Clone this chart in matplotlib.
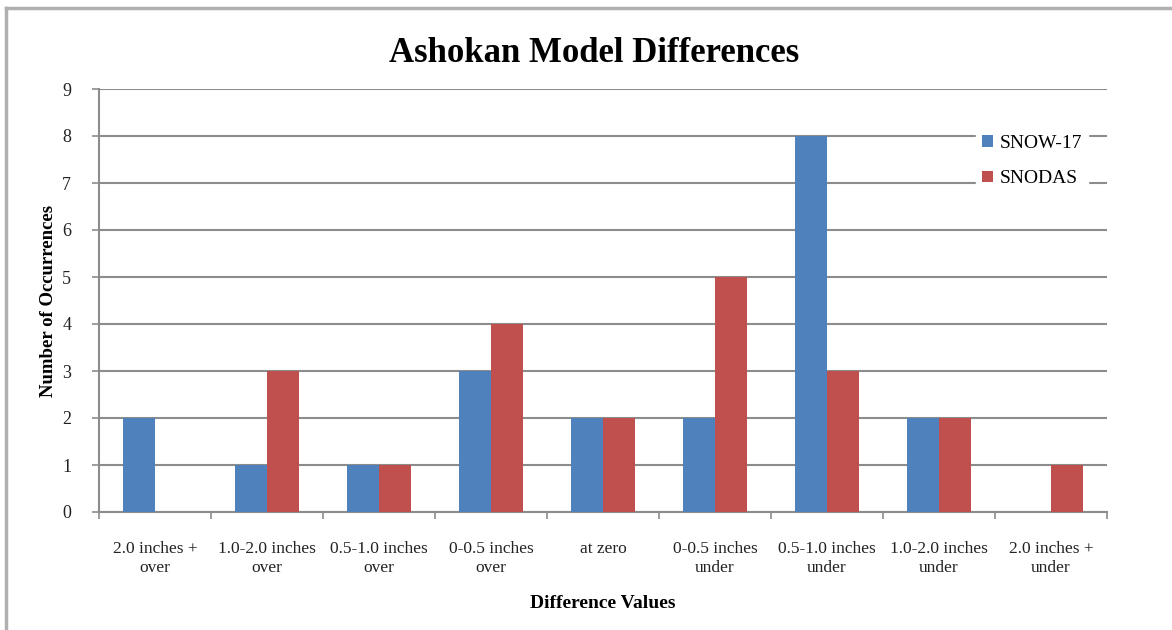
import matplotlib.pyplot as plt
import numpy as np
from matplotlib.lines import Line2D

categories = ["2.0 inches +\nover", "1.0-2.0 inches\nover", "0.5-1.0 inches\nover",
              "0-0.5 inches\nover", "at zero", "0-0.5 inches\nunder",
              "0.5-1.0 inches\nunder", "1.0-2.0 inches\nunder", "2.0 inches +\nunder"]
snow17 = [2, 1, 1, 3, 2, 2, 8, 2, 0]
snodas = [0, 3, 1, 4, 2, 5, 3, 2, 1]

plt.rcParams['font.family'] = ['Liberation Serif', 'DejaVu Serif']

fig = plt.figure(figsize=(11.72, 6.3), dpi=100)
ax = fig.add_axes([99 / 1172, 1 - 512 / 630, 1008 / 1172, 423 / 630])

x = np.arange(len(categories))
w = 1 / 3.5
ax.bar(x - w / 2, snow17, w, color='#4F81BD', label='SNOW-17', zorder=3)
ax.bar(x + w / 2, snodas, w, color='#C0504D', label='SNODAS', zorder=3)

ax.set_xlim(-0.5, len(categories) - 0.5)
ax.set_ylim(0, 9)
ax.set_yticks(range(10))
ax.yaxis.grid(True, color='#8c8c8c', linewidth=1.5, zorder=0)
ax.set_axisbelow(True)

ax.set_xticks(x)
ax.set_xticklabels(categories, fontsize=12.5, color='#222222', linespacing=1.2)
ax.tick_params(axis='x', length=0, pad=21)
ax.set_xticks(np.arange(-0.5, len(categories)), minor=True)
ax.tick_params(axis='x', which='minor', length=5, width=1.2, color='#8c8c8c')
ax.tick_params(axis='y', length=5, width=1.2, color='#8c8c8c', labelsize=13,
               labelcolor='#222222', pad=15)

for s in ['top', 'right']:
    ax.spines[s].set_visible(False)
for s in ['left', 'bottom']:
    ax.spines[s].set_color('#8c8c8c')
    ax.spines[s].set_linewidth(1.5)

ax.set_xlabel('Difference Values', fontsize=14, fontweight='bold', labelpad=14)
ax.set_ylabel('Number of Occurrences', fontsize=13.5, fontweight='bold', labelpad=4)

fig.text(594 / 1172, 1 - 54 / 630, 'Ashokan Model Differences', fontsize=25,
         fontweight='bold', ha='center', va='center')

leg = ax.legend(loc='upper right', bbox_to_anchor=(0.981, 0.905), frameon=True,
                fontsize=14, handlelength=0.55, handleheight=0.55, handletextpad=0.35,
                labelspacing=0.95, borderpad=0.3, borderaxespad=0, fancybox=False)
leg.get_frame().set_edgecolor('white')
leg.get_frame().set_facecolor('white')
leg.get_frame().set_alpha(1)

# page border (top and left only)
fig.add_artist(Line2D([6 / 1172, 1], [1 - 8 / 630, 1 - 8 / 630], color='#b0b0b0', linewidth=2.5))
fig.add_artist(Line2D([6 / 1172, 6 / 1172], [0, 1 - 8 / 630], color='#b0b0b0', linewidth=2.5))

fig.savefig('out.png', dpi=100)
